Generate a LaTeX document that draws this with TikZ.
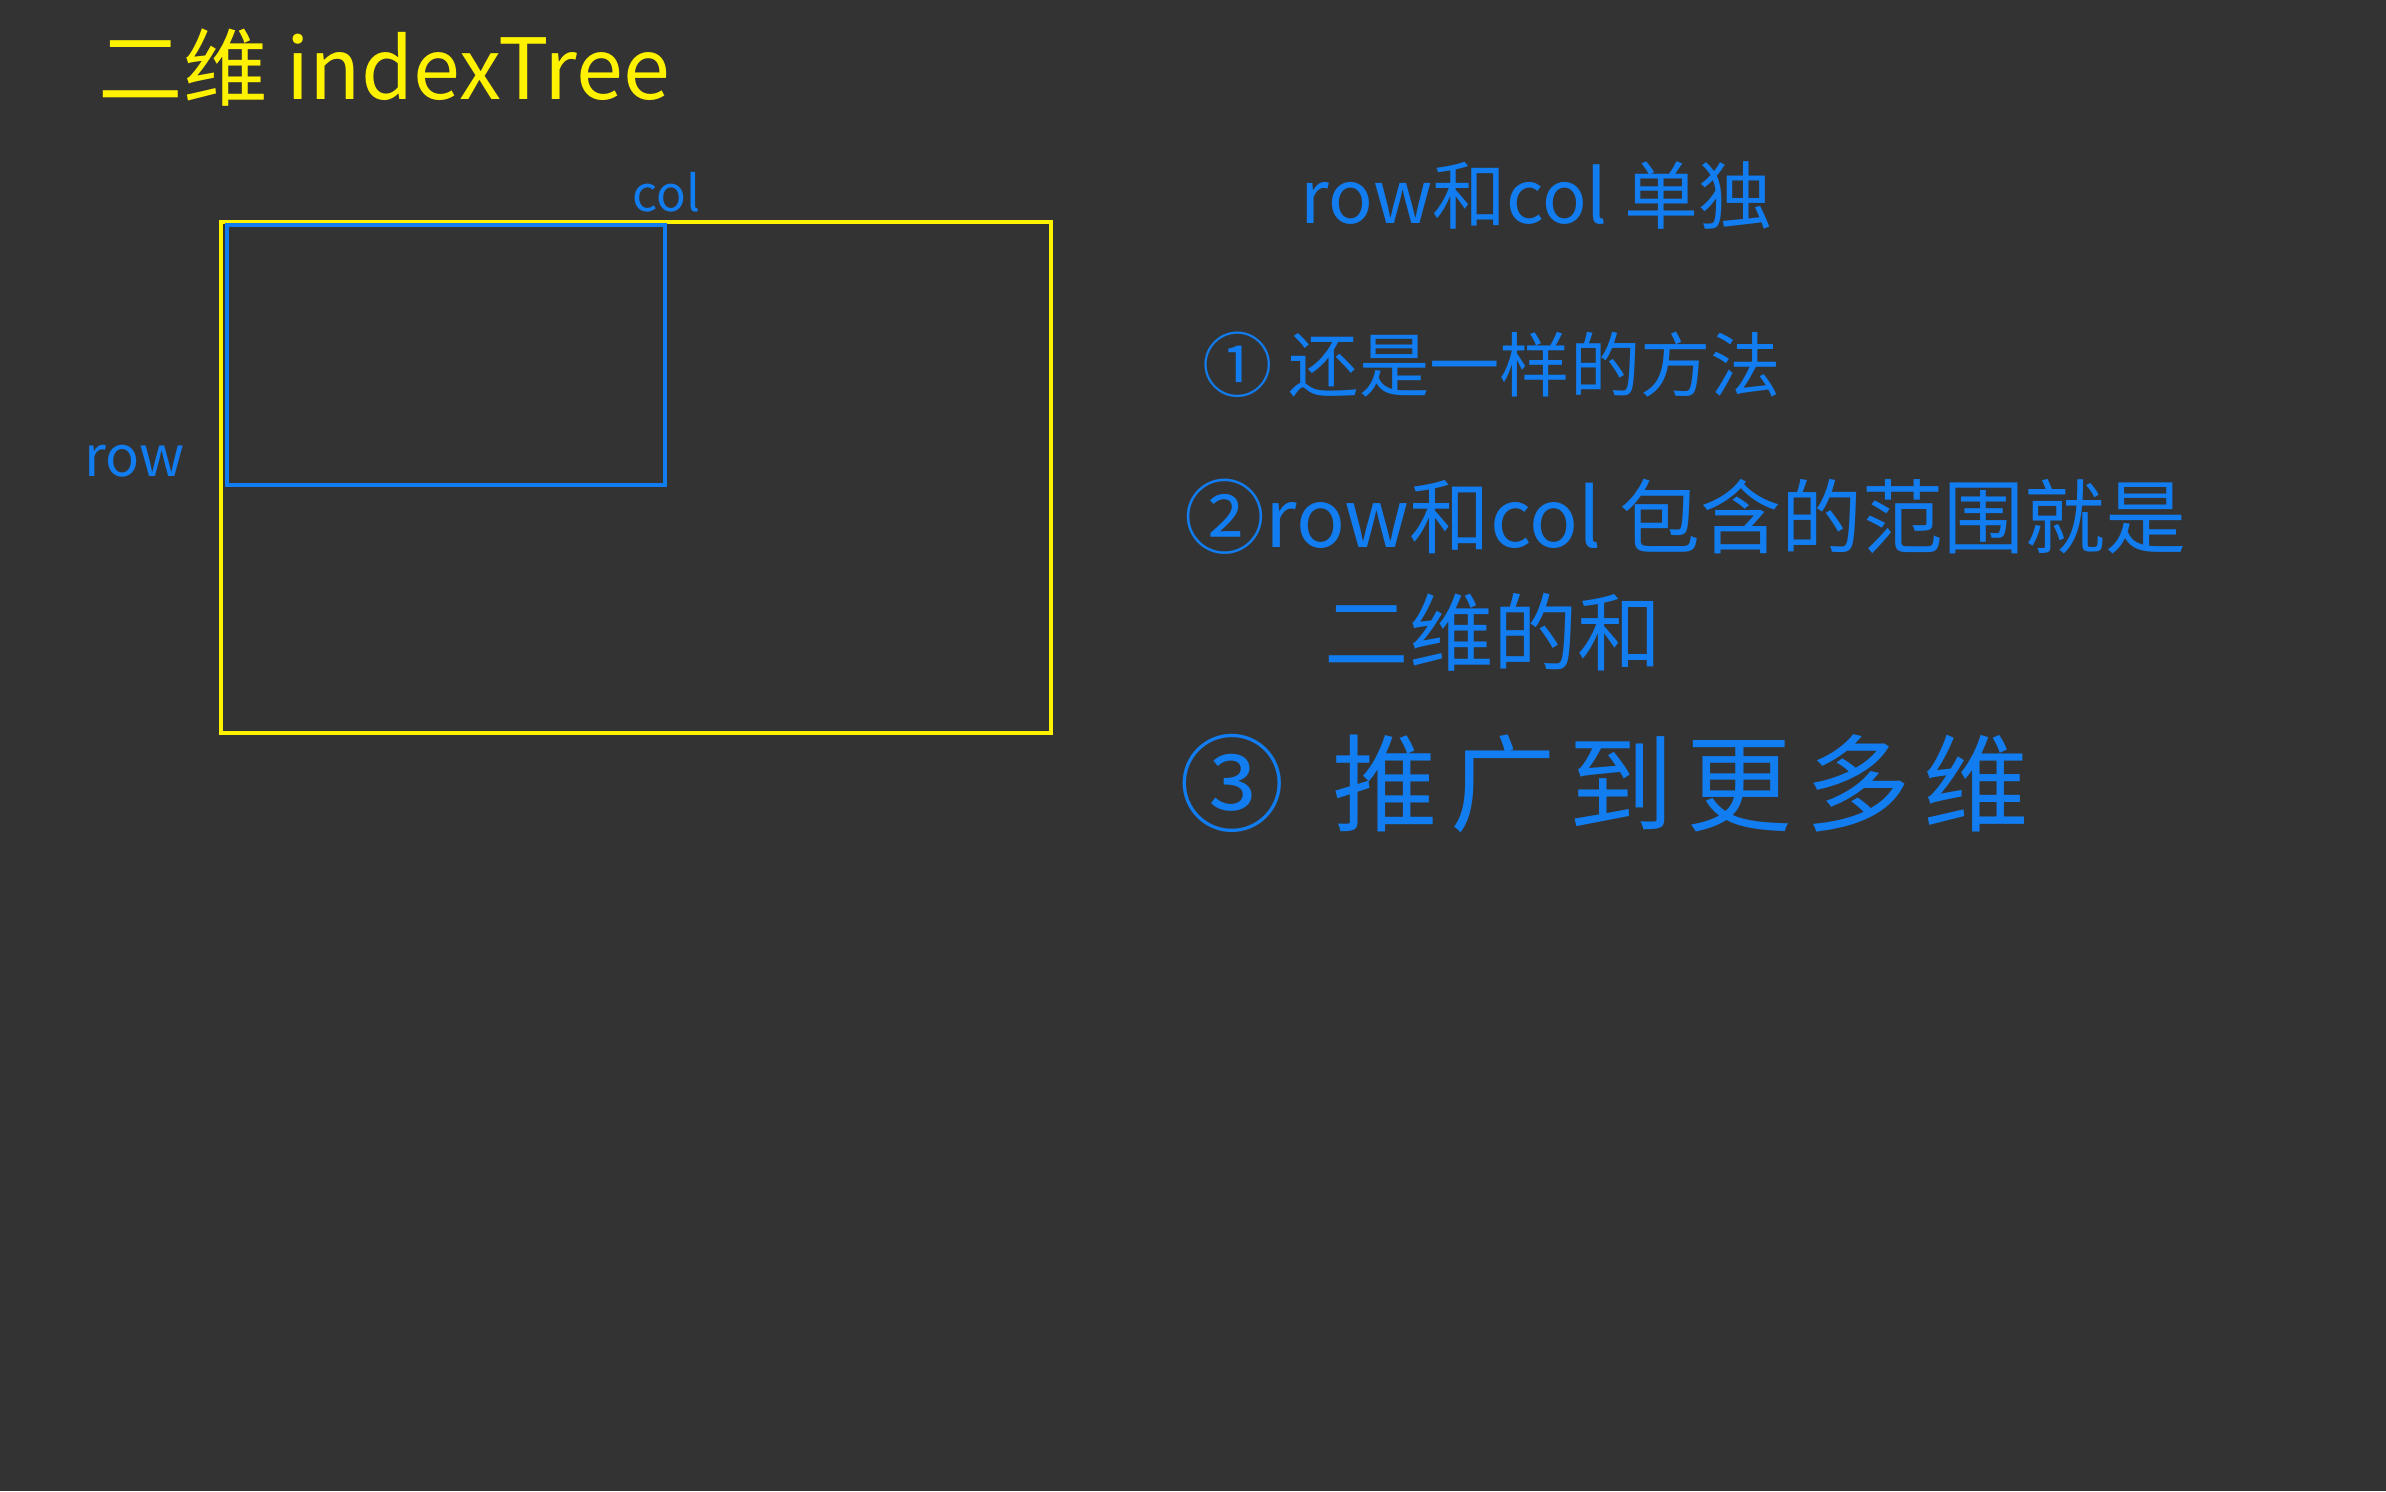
\documentclass[tikz,border=0pt]{standalone}
\usepackage{fontspec}
\setmainfont{Noto Sans CJK SC}
\usepackage{xcolor}
\definecolor{board}{HTML}{333333}
\definecolor{chalkyel}{HTML}{FFF200}
\definecolor{chalkblu}{HTML}{127DF0}
\usepackage{tikz}
\usetikzlibrary{positioning}
\tikzset{
  yelnote/.style ={text=chalkyel,inner sep=0pt,anchor=west},
  blunote/.style ={text=chalkblu,inner sep=0pt,anchor=west},
  yelframe/.style={draw=chalkyel,line width=1.3pt},
  bluframe/.style={draw=chalkblu,line width=1.2pt},
}
\begin{document}
\begin{tikzpicture}[x=0.01cm,y=-0.01cm]
\fill[board] (0,0) rectangle (2386,1491);
\useasboundingbox (0,0) rectangle (2386,1491);
% title
\node[yelnote,font=\fontsize{24}{29}\selectfont] (title) at (98,68) {二维\ indexTree};
% the two ranges
\draw[yelframe] (221,222) rectangle (1051,733);
\draw[bluframe] (227,225) rectangle (665,485);
\node[blunote,font=\fontsize{14}{16}\selectfont] (col) at (632,192) {col};
\node[blunote,font=\fontsize{16}{18}\selectfont] (row) at (84,461) {row};
% notes on the right
\node[blunote,font=\fontsize{21}{25}\selectfont] (sep) at (1300,195) {row和col 单独};
\node[blunote,font=\fontsize{20}{24}\selectfont] (n1) at (1202,365) {① 还是一样的方法};
\node[blunote,font=\fontsize{23}{28}\selectfont] (n2) at (1184,517) {②row和col 包含的范围就是};
\node[blunote,font=\fontsize{24}{29}\selectfont] (n2b) at (1324,632) {二维的和};
\node[blunote,font=\fontsize{30}{36}\selectfont] (n3) at (1179,784)
  {③ \ \addfontfeatures{LetterSpace=12}推广到更多维};
\end{tikzpicture}
\end{document}
